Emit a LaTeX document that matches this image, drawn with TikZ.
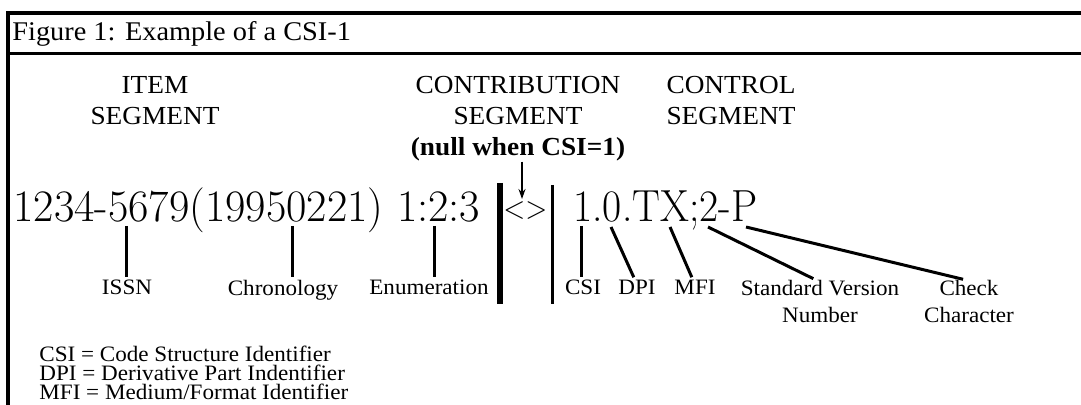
\documentclass[tikz,border=0pt]{standalone}
\usepackage{fontspec}
\newfontfamily\labelfont{Liberation Serif}[FakeStretch=1.05]
\usetikzlibrary{arrows.meta}
\usetikzlibrary{positioning}

\begin{document}
\begin{tikzpicture}
          [x=0.5pt, y=-0.5pt,
           every node/.style={inner sep=0pt},
           segtitle/.style={font=\labelfont\fontsize{13}{15.5}\selectfont, align=center, anchor=north},
           partlabel/.style={font=\labelfont\fontsize{11}{13.5}\selectfont, align=center, anchor=north},
           keytext/.style={font=\labelfont\fontsize{11}{13.5}\selectfont, anchor=base west},
           codetext/.style={font=\fontsize{22.5}{27}\selectfont, anchor=base west},
           tickline/.style={line width=1.5pt, shorten >=1.5pt},
           sepbar/.style={line width=3pt},
           thinbar/.style={line width=1.75pt},
           boxline/.style={line width=1.75pt}]
          \useasboundingbox (0,0) rectangle (1081,405);

          % frame and title
          \draw[boxline] (1081,13) -- (8,13) -- (8,405);
          \draw[line width=1.25pt] (8,53.5) -- (1081,53.5);
          \node (title) [anchor=base west, font=\labelfont\fontsize{13.5}{16}\selectfont] at (12,41) {Figure 1: Example of a CSI-1};

          % segment headings
          \node (item) [segtitle] at (155,76) {ITEM\\SEGMENT};
          \node (contrib) [segtitle] at (518,76) {CONTRIBUTION\\SEGMENT\\\textbf{(null when CSI=1)}};
          \node (control) [segtitle] at (731,76) {CONTROL\\SEGMENT};

          % the code
          \node (itemcode) [codetext] at (13,222) {\scalebox{0.985}[1]{1234-5679(19950221) 1:2:3}};
          \node (nullcode) [anchor=base west, font=\fontsize{16}{19}\selectfont] at (503,219) {\scalebox{0.9}[1]{<>}};
          \node (controlcode) [codetext] at (573,222) {\scalebox{0.925}[1]{1.0.TX;2-P}};

          \draw[sepbar] (500,183) -- (500,304);
          \draw[thinbar] (552.5,185) -- (552.5,304);

          \coordinate (nulltip) at (522,199);
          \draw[-{Stealth[length=5pt, width=3.5pt]}, line width=0.7pt] ([xshift=2pt]contrib.south) -- (nulltip);

          % parts
          \coordinate (issn-top) at (126,226);
          \coordinate (chron-top) at (292,226);
          \coordinate (enum-top) at (434,226);
          \coordinate (csi-top) at (581,226);
          \coordinate (dpi-top) at (611,227);
          \coordinate (mfi-top) at (670,227);
          \coordinate (version-top) at (708,227);
          \coordinate (check-top) at (746,227);

          \node (issn) [partlabel] at (127,280) {ISSN};
          \node (chron) [partlabel] at (283,280) {Chronology};
          \node (enum) [partlabel] at (429,280) {Enumeration};
          \node (csi) [partlabel] at (583,280) {CSI};
          \node (dpi) [partlabel] at (637,280) {DPI};
          \node (mfi) [partlabel] at (695,280) {MFI};
          \node (version) [partlabel] at (820,280) {Standard Version\\Number};
          \node (check) [partlabel] at (969,280) {Check\\Character};

          \draw[tickline] (issn-top) -- (issn-top |- issn.north);
          \draw[tickline] (chron-top) -- (chron-top |- chron.north);
          \draw[tickline] (enum-top) -- (enum-top |- enum.north);
          \draw[tickline] (csi-top) -- (csi-top |- csi.north);
          \draw[tickline] (dpi-top) -- ([xshift=-1pt]dpi.north);
          \draw[tickline] (mfi-top) -- ([xshift=-1pt]mfi.north);
          \draw[tickline] (version-top) -- ([xshift=-2pt]version.north);
          \draw[tickline] (check-top) -- ([xshift=-1.5pt]check.north);

          % key
          \node (csi-key) [keytext] at (39,362) {CSI = Code Structure Identifier};
          \node (dpi-key) [keytext, below=9.5pt of csi-key.base west, anchor=base west] {DPI = Derivative Part Indentifier};
          \node (mfi-key) [keytext, below=9.5pt of dpi-key.base west, anchor=base west] {MFI = Medium/Format Identifier};

        \end{tikzpicture}
\end{document}
